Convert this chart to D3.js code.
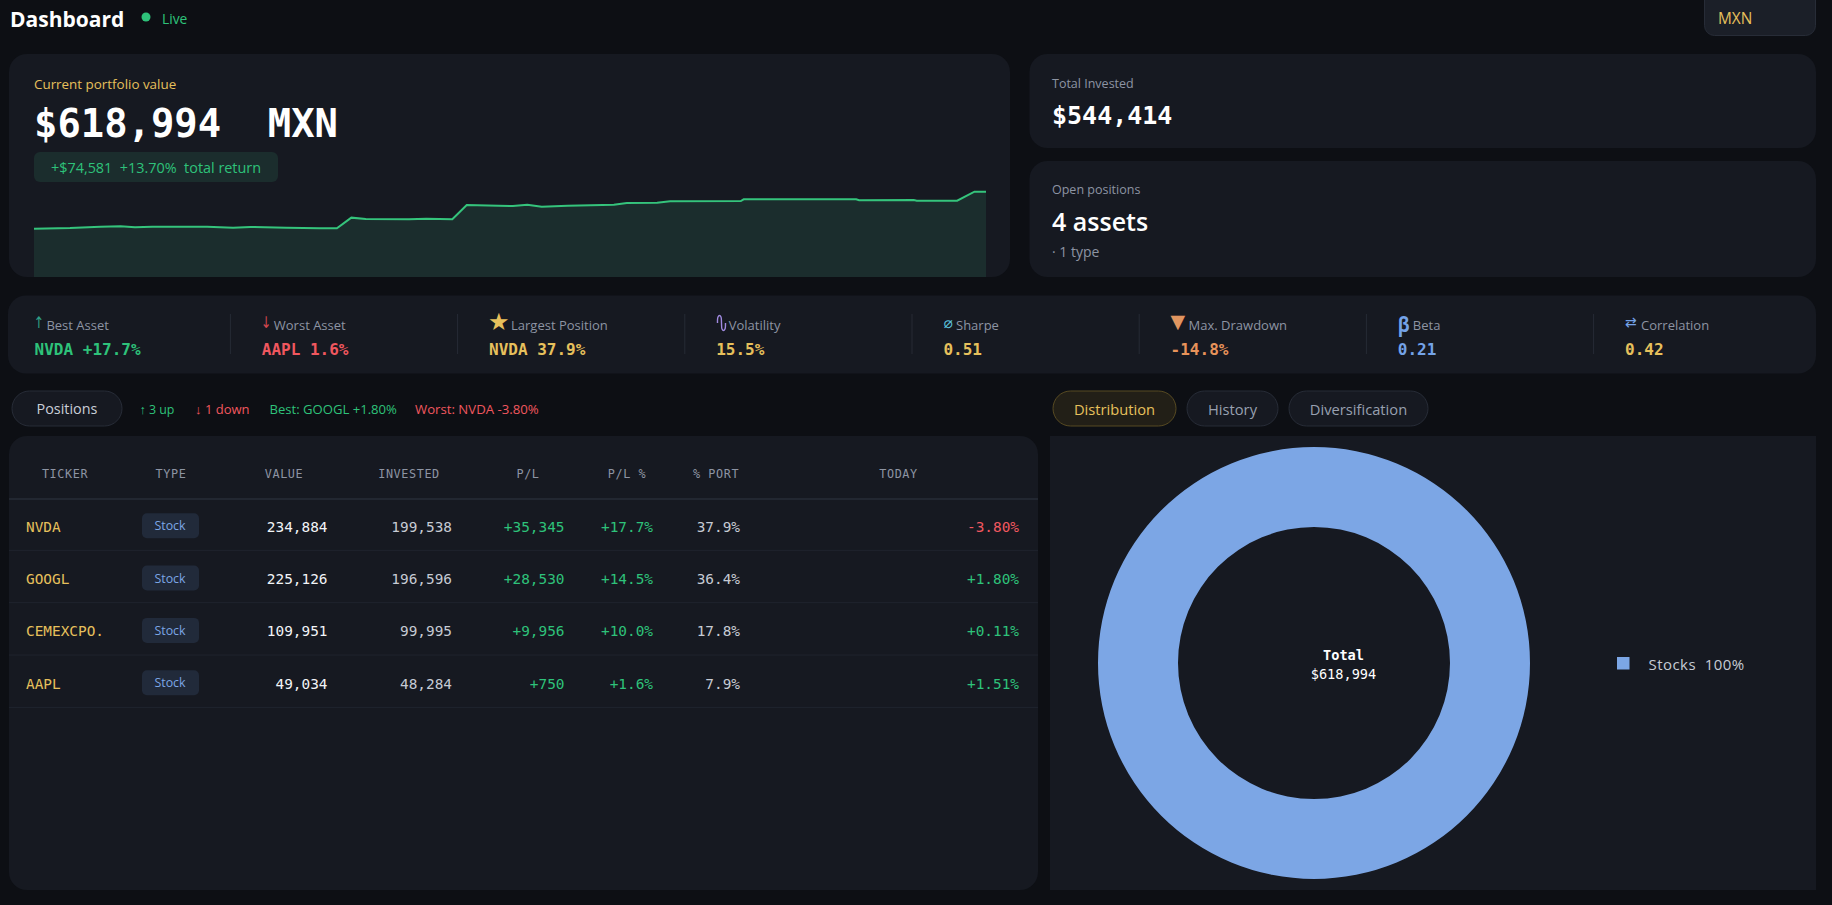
<!DOCTYPE html>
<html>
<head>
<meta charset="utf-8">
<title>Dashboard</title>
<script src="https://cdn.jsdelivr.net/npm/d3@7"></script>
<style>
html, body { margin: 0; padding: 0; background: #0d0f14; overflow: hidden; }
svg { display: block; }
text { dominant-baseline: central; }
</style>
</head>
<body>
<svg id="chart" width="1832" height="905"></svg>
<script>
// history of the portfolio value
var historyDays = [0,2.5,4.6,6,7,8.2,12,13.8,15,17.5,19.8,21,22,23,26,27.2,29,30,32.2,33.2,34.2,35.2,37,40.2,41.1,43.2,44.1,49,49.2,57,57.2,61,61.2,64,65.2,66];
var historyValues = [537600,539100,542000,542900,540700,542000,542000,539800,541300,539800,538500,538500,561800,558900,558300,559600,558300,589700,588000,587500,590400,586000,588200,590400,594100,594800,597900,598500,602300,602300,600100,600700,599200,599200,619000,619000];

// metrics strip, the volatility squiggle is drawn as a small path below
var metricIcons = ["↑","↓","★","","⌀","▼","β","⇄"];
var metricLabels = ["Best Asset","Worst Asset","Largest Position","Volatility","Sharpe","Max. Drawdown","Beta","Correlation"];
var metricValues = ["NVDA +17.7%","AAPL 1.6%","NVDA 37.9%","15.5%","0.51","-14.8%","0.21","0.42"];

// positions table
var tableHeaders = ["TICKER","TYPE","VALUE","INVESTED","P/L","P/L %","% PORT","TODAY"];
var tickers = ["NVDA","GOOGL","CEMEXCPO.","AAPL"];
var assetTypes = ["Stock","Stock","Stock","Stock"];
var positionValues = [234884,225126,109951,49034];
var investedValues = [199538,196596,99995,48284];
var profitLoss = [35345,28530,9956,750];
var profitLossPct = [17.7,14.5,10.0,1.6];
var portfolioPct = [37.9,36.4,17.8,7.9];
var todayPct = [-3.80,1.80,0.11,1.51];

// distribution donut
var distCategories = ["Stocks"];
var distShares = [100];

var card = "#161921", gold = "#e6c05c", green = "#2ec27a", red = "#f0575f",
    blue = "#7ca6e5", grey = "#8d94a3", white = "#ffffff", line = "#1f242e";
var sans = "'Open Sans', sans-serif", mono = "'DejaVu Sans Mono', monospace";

var svg = d3.select("#chart");

function box(x, y, w, h, r, fill, stroke) {
  return svg.append("rect")
      .attr("x", x).attr("y", y).attr("width", w).attr("height", h).attr("rx", r)
      .attr("fill", fill).attr("stroke", stroke || "none");
}

function label(x, y, str, size, color, font, weight, anchor) {
  return svg.append("text")
      .attr("x", x).attr("y", y)
      .attr("font-size", size).attr("fill", color)
      .attr("font-family", font || sans)
      .attr("font-weight", weight || 400)
      .attr("text-anchor", anchor || "start")
      .style("white-space", "pre")
      .text(str);
}

var fmt = d3.format(",d"), signed = d3.format("+,d");

// header
label(10, 19, "Dashboard", 21, white, sans, 700);
svg.append("circle").attr("cx", 146).attr("cy", 17).attr("r", 4.5).attr("fill", green);
label(162, 18, "Live", 13.8, green);
box(1704.5, -12, 111, 47.5, 10, "#1b1f28", "#272c37");
label(1718, 18, "MXN", 15.4, gold);

// hero card
box(9, 54, 1001, 223, 18, card);
label(34, 84, "Current portfolio value", 13.4, gold);
label(34, 123, "$618,994  MXN", 38.85, white, mono, 700);
box(34, 152, 244, 30, 6, "#1b2d2d");
label(51, 167.5, "+$74,581  +13.70%  total return", 14.4, green);

var x = d3.scaleLinear().domain([0, 66]).range([34, 986]);
var y = d3.scaleLinear().domain([431000, 619000]).range([277, 191.7]);
var points = d3.range(historyDays.length);

svg.append("path")
    .attr("d", d3.area().x(function(i) { return x(historyDays[i]); }).y0(y(431000)).y1(function(i) { return y(historyValues[i]); })(points))
    .attr("fill", "#1b2d2d");
svg.append("path")
    .attr("d", d3.line().x(function(i) { return x(historyDays[i]); }).y(function(i) { return y(historyValues[i]); })(points))
    .attr("fill", "none").attr("stroke", "#35c47c").attr("stroke-width", 2);

// right cards
box(1029.5, 54, 786.5, 94, 18, card);
label(1052, 83, "Total Invested", 12.5, grey);
label(1052, 115, "$544,414", 25, white, mono, 700);
box(1029.5, 161, 786.5, 116, 18, card);
label(1052, 189, "Open positions", 12.5, grey);
label(1052, 221, "4 assets", 25, white, sans, 600);
label(1052, 251, "· 1 type", 14, grey);

// metrics strip
box(8, 295.5, 1808, 78, 18, card);
var metricX = d3.scaleLinear().domain([0, 7]).range([34.6, 1625]);
var metricColors = [green, red, gold, gold, gold, "#e8935a", "#74a3e8", gold];
var iconColors = ["#2f9e86", "#d0474f", gold, "#a08ae0", "#5ac0dc", "#e09560", "#74a3e8", "#74a3e8"];
var iconFonts = ["'DejaVu Sans'", "'DejaVu Sans'", "'DejaVu Sans'", "'DejaVu Sans'", "'DejaVu Sans'", "'DejaVu Sans'", "'Open Sans'", "'DejaVu Sans'"];
var iconSizes = [16, 16, 24, 15, 15, 19, 21, 14];
var iconDx = [-1, -1, -1, 0, 0, 0, 0, 0];
var iconCy = [322, 322, 321.5, 323, 323, 321, 324, 322];
var iconScaleX = [0.8, 0.8, 1, 1, 1, 1, 0.85, 1];
var labelOffsets = [11.8, 12, 22, 12.5, 12.6, 18, 15, 16];

metricLabels.forEach(function(d, i) {
  var left = metricX(i);
  if (i > 0) {
    svg.append("line")
        .attr("x1", left - 31.4).attr("x2", left - 31.4).attr("y1", 314).attr("y2", 354)
        .attr("stroke", "#262b35");
  }
  if (metricIcons[i]) {
    label(0, 0, metricIcons[i], iconSizes[i], iconColors[i], iconFonts[i], i == 6 ? 700 : 400)
        .attr("transform", "translate(" + (left + iconDx[i]) + "," + iconCy[i] + ") scale(" + iconScaleX[i] + ",1)");
  }
  label(left + labelOffsets[i], 325, d, 13, grey);
  label(left, 349, metricValues[i], 16, metricColors[i], mono, 700);
});

// volatility icon
var squiggle = [[0.5,8],[1,2],[2.5,0.5],[4,2],[4.5,8],[5,14],[6.5,15.5],[8,14],[8.5,8]];
svg.append("path")
    .attr("transform", "translate(717,315)")
    .attr("d", d3.line().curve(d3.curveCatmullRom)(squiggle))
    .attr("fill", "none").attr("stroke", iconColors[3]).attr("stroke-width", 1.4);

// positions pill and stats
box(12, 391, 110, 35, 17.5, card, "#272c37");
label(67, 408.5, "Positions", 14.4, "#c9ced8", sans, 400, "middle");
label(139.5, 409, "↑ 3 up", 12.4, green);
label(195, 409, "↓ 1 down", 13, red);
label(269.5, 409, "Best: GOOGL +1.80%", 13.1, green);
label(415, 409, "Worst: NVDA -3.80%", 13.2, red);

// tabs
var tabNames = ["Distribution","History","Diversification"];
var tabLeft = [1053, 1187, 1289], tabWidth = [123, 91, 139];
tabNames.forEach(function(d, i) {
  box(tabLeft[i], 391, tabWidth[i], 35, 17.5, i == 0 ? "#221f17" : card, i == 0 ? "#574a22" : "#272c37");
  label(tabLeft[i] + tabWidth[i] / 2, 408.5, d, 14.7, i == 0 ? gold : "#98a0b0", sans, 400, "middle");
});

// positions table
box(9, 436, 1029, 454, 18, card);
var headerX = [65, 171, 284, 409, 528, 627, 716, 898.5];
tableHeaders.forEach(function(d, i) {
  label(headerX[i], 474, d, 11.8, "#8d94a3", mono, 400, "middle").attr("letter-spacing", 0.6);
});
svg.append("line").attr("x1", 9).attr("x2", 1038).attr("y1", 499).attr("y2", 499)
    .attr("stroke", "#222731").attr("stroke-width", 2);

var rowY = d3.scaleBand().domain(tickers).range([498, 707.4]);
var mono14 = 14.4;

tickers.forEach(function(t, i) {
  var mid = rowY(t) + rowY.bandwidth() / 2, cy = mid + 2.5;
  var up = todayPct[i] >= 0;
  svg.append("line").attr("x1", 9).attr("x2", 1038)
      .attr("y1", rowY(t) + rowY.bandwidth()).attr("y2", rowY(t) + rowY.bandwidth())
      .attr("stroke", line);
  label(26, cy, t, mono14, gold, mono);
  box(142, mid - 11, 57, 25, 5, "#212a3a");
  label(170, mid + 1.5, assetTypes[i], 12.4, "#7ca6e5", sans, 400, "middle");
  label(327.5, cy, fmt(positionValues[i]), mono14, "#f2f4f7", mono, 400, "end");
  label(452, cy, fmt(investedValues[i]), mono14, "#c6cbd4", mono, 400, "end");
  label(564.5, cy, signed(profitLoss[i]), mono14, green, mono, 400, "end");
  label(653, cy, "+" + profitLossPct[i].toFixed(1) + "%", mono14, green, mono, 400, "end");
  label(740, cy, portfolioPct[i].toFixed(1) + "%", mono14, "#c6cbd4", mono, 400, "end");
  label(1019, cy, (up ? "+" : "") + todayPct[i].toFixed(2) + "%", mono14, up ? green : red, mono, 400, "end");
});

// distribution panel
svg.append("rect").attr("x", 1050).attr("y", 436).attr("width", 766).attr("height", 454).attr("fill", card);

var pie = d3.pie().sort(null);
var arc = d3.arc().innerRadius(136).outerRadius(216);

svg.append("g")
    .attr("transform", "translate(1314,663)")
  .selectAll("path")
    .data(pie(distShares))
  .enter().append("path")
    .attr("d", arc)
    .attr("fill", blue);

label(1343.5, 655, "Total", 13.6, white, mono, 700, "middle");
label(1343.5, 674, "$618,994", 13.6, white, mono, 400, "middle");

distCategories.forEach(function(d, i) {
  svg.append("rect").attr("x", 1617).attr("y", 657).attr("width", 12.5).attr("height", 12.5).attr("fill", blue);
  label(1648.5, 664, d + "  " + distShares[i] + "%", 15, "#c6cbd4", sans).attr("letter-spacing", 0.45);
});
</script>
</body>
</html>
